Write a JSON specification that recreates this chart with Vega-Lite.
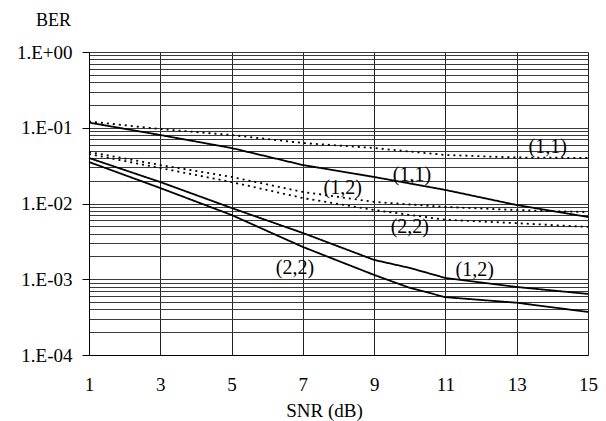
{
  "$schema": "https://vega.github.io/schema/vega-lite/v6.json",
  "width": 499,
  "height": 303,
  "autosize": {"type": "none"},
  "padding": {"left": 89, "top": 52, "right": 18, "bottom": 66},
  "background": "white",
  "config": {"view": {"stroke": null}, "font": "Liberation Serif"},
  "datasets": {
    "curves": [
      {"snr": 1, "ber": 0.117, "curve": "s11", "style": "solid"},
      {"snr": 3, "ber": 0.0802, "curve": "s11", "style": "solid"},
      {"snr": 5, "ber": 0.054, "curve": "s11", "style": "solid"},
      {"snr": 7, "ber": 0.0322, "curve": "s11", "style": "solid"},
      {"snr": 9, "ber": 0.0224, "curve": "s11", "style": "solid"},
      {"snr": 11, "ber": 0.0151, "curve": "s11", "style": "solid"},
      {"snr": 13, "ber": 0.00955, "curve": "s11", "style": "solid"},
      {"snr": 15, "ber": 0.00664, "curve": "s11", "style": "solid"},
      {"snr": 1, "ber": 0.121, "curve": "d11", "style": "dotted"},
      {"snr": 3, "ber": 0.0962, "curve": "d11", "style": "dotted"},
      {"snr": 5, "ber": 0.0802, "curve": "d11", "style": "dotted"},
      {"snr": 7, "ber": 0.0629, "curve": "d11", "style": "dotted"},
      {"snr": 9, "ber": 0.054, "curve": "d11", "style": "dotted"},
      {"snr": 11, "ber": 0.0437, "curve": "d11", "style": "dotted"},
      {"snr": 13, "ber": 0.0405, "curve": "d11", "style": "dotted"},
      {"snr": 15, "ber": 0.0399, "curve": "d11", "style": "dotted"},
      {"snr": 1, "ber": 0.0479, "curve": "d12", "style": "dotted"},
      {"snr": 3, "ber": 0.0322, "curve": "d12", "style": "dotted"},
      {"snr": 5, "ber": 0.0224, "curve": "d12", "style": "dotted"},
      {"snr": 7, "ber": 0.0142, "curve": "d12", "style": "dotted"},
      {"snr": 9, "ber": 0.0105, "curve": "d12", "style": "dotted"},
      {"snr": 11, "ber": 0.009, "curve": "d12", "style": "dotted"},
      {"snr": 13, "ber": 0.0082, "curve": "d12", "style": "dotted"},
      {"snr": 15, "ber": 0.0077, "curve": "d12", "style": "dotted"},
      {"snr": 1, "ber": 0.045, "curve": "d22", "style": "dotted"},
      {"snr": 3, "ber": 0.0294, "curve": "d22", "style": "dotted"},
      {"snr": 5, "ber": 0.0192, "curve": "d22", "style": "dotted"},
      {"snr": 7, "ber": 0.0118, "curve": "d22", "style": "dotted"},
      {"snr": 9, "ber": 0.0082, "curve": "d22", "style": "dotted"},
      {"snr": 11, "ber": 0.0061, "curve": "d22", "style": "dotted"},
      {"snr": 13, "ber": 0.0055, "curve": "d22", "style": "dotted"},
      {"snr": 15, "ber": 0.0049, "curve": "d22", "style": "dotted"},
      {"snr": 1, "ber": 0.0399, "curve": "s12", "style": "solid"},
      {"snr": 3, "ber": 0.0192, "curve": "s12", "style": "solid"},
      {"snr": 5, "ber": 0.00873, "curve": "s12", "style": "solid"},
      {"snr": 7, "ber": 0.00408, "curve": "s12", "style": "solid"},
      {"snr": 9, "ber": 0.0018, "curve": "s12", "style": "solid"},
      {"snr": 10, "ber": 0.00141, "curve": "s12", "style": "solid"},
      {"snr": 11, "ber": 0.00104, "curve": "s12", "style": "solid"},
      {"snr": 13, "ber": 0.00079, "curve": "s12", "style": "solid"},
      {"snr": 15, "ber": 0.00064, "curve": "s12", "style": "solid"},
      {"snr": 1, "ber": 0.0353, "curve": "s22", "style": "solid"},
      {"snr": 3, "ber": 0.016, "curve": "s22", "style": "solid"},
      {"snr": 5, "ber": 0.00705, "curve": "s22", "style": "solid"},
      {"snr": 7, "ber": 0.00267, "curve": "s22", "style": "solid"},
      {"snr": 9, "ber": 0.00114, "curve": "s22", "style": "solid"},
      {"snr": 10, "ber": 0.00077, "curve": "s22", "style": "solid"},
      {"snr": 11, "ber": 0.00058, "curve": "s22", "style": "solid"},
      {"snr": 13, "ber": 0.00049, "curve": "s22", "style": "solid"},
      {"snr": 15, "ber": 0.00037, "curve": "s22", "style": "solid"}
    ],
    "labels": [
      {"snr": 13.87, "ber": 0.0557, "label": "(1,1)"},
      {"snr": 10.06, "ber": 0.0238, "label": "(1,1)"},
      {"snr": 8.12, "ber": 0.016, "label": "(1,2)"},
      {"snr": 10.0, "ber": 0.0049, "label": "(2,2)"},
      {"snr": 11.82, "ber": 0.00132, "label": "(1,2)"},
      {"snr": 6.78, "ber": 0.00141, "label": "(2,2)"}
    ]
  },
  "layer": [
    {
      "data": {"name": "curves"},
      "mark": {"type": "line", "strokeWidth": 1.8, "color": "black"},
      "encoding": {
        "x": {
          "field": "snr", "type": "quantitative",
          "scale": {"domain": [1, 15], "nice": false, "zero": false},
          "axis": {
            "values": [1, 3, 5, 7, 9, 11, 13, 15],
            "grid": true, "gridColor": "#222", "gridWidth": 1,
            "ticks": false, "domainColor": "black", "domainWidth": 1,
            "labelFont": "Liberation Serif", "labelFontSize": 19, "labelColor": "black",
            "labelPadding": 20, "labelFlush": false,
            "title": "SNR (dB)", "titleFont": "Liberation Serif", "titleFontSize": 19,
            "titleFontWeight": "normal", "titleColor": "black",
            "titleX": 235, "titleY": 55, "titleBaseline": "middle", "titleAnchor": "middle"
          }
        },
        "y": {
          "field": "ber", "type": "quantitative",
          "scale": {"type": "log", "domain": [0.0001, 1], "nice": false},
          "axis": {
            "values": [0.0001, 0.0002, 0.0003, 0.0004, 0.0005, 0.0006, 0.0007, 0.0008, 0.0009,
                       0.001, 0.002, 0.003, 0.004, 0.005, 0.006, 0.007, 0.008, 0.009,
                       0.01, 0.02, 0.03, 0.04, 0.05, 0.06, 0.07, 0.08, 0.09,
                       0.1, 0.2, 0.3, 0.4, 0.5, 0.6, 0.7, 0.8, 0.9, 1],
            "grid": true, "gridColor": "#3a3a3a", "gridWidth": 1,
            "tickColor": "black", "tickSize": 7,
            "tickOpacity": {"condition": {"test": "abs(log(datum.value)/LN10 - round(log(datum.value)/LN10)) < 0.001", "value": 1}, "value": 0},
            "domainColor": "black", "domainWidth": 1,
            "labelExpr": "datum.value >= 0.999 ? '1.E+00' : (abs(log(datum.value)/LN10 - round(log(datum.value)/LN10)) < 0.001 ? '1.E-0' + format(-round(log(datum.value)/LN10), 'd') : '')",
            "labelFont": "Liberation Serif", "labelFontSize": 19, "labelColor": "black",
            "labelPadding": 10, "labelFlush": false, "labelOverlap": false,
            "title": "BER", "titleFont": "Liberation Serif", "titleFontSize": 18,
            "titleFontWeight": "normal", "titleColor": "black", "titleAngle": 0,
            "titleX": -36, "titleY": -32, "titleAlign": "center", "titleBaseline": "middle"
          }
        },
        "detail": {"field": "curve"},
        "strokeDash": {
          "field": "style", "type": "nominal",
          "scale": {"domain": ["solid", "dotted"], "range": [[1, 0], [2, 4]]},
          "legend": null
        }
      }
    },
    {
      "data": {"name": "labels"},
      "mark": {"type": "text", "font": "Liberation Serif", "fontSize": 20, "color": "black", "baseline": "middle", "align": "center"},
      "encoding": {
        "x": {"field": "snr", "type": "quantitative"},
        "y": {"field": "ber", "type": "quantitative"},
        "text": {"field": "label"}
      }
    }
  ]
}
